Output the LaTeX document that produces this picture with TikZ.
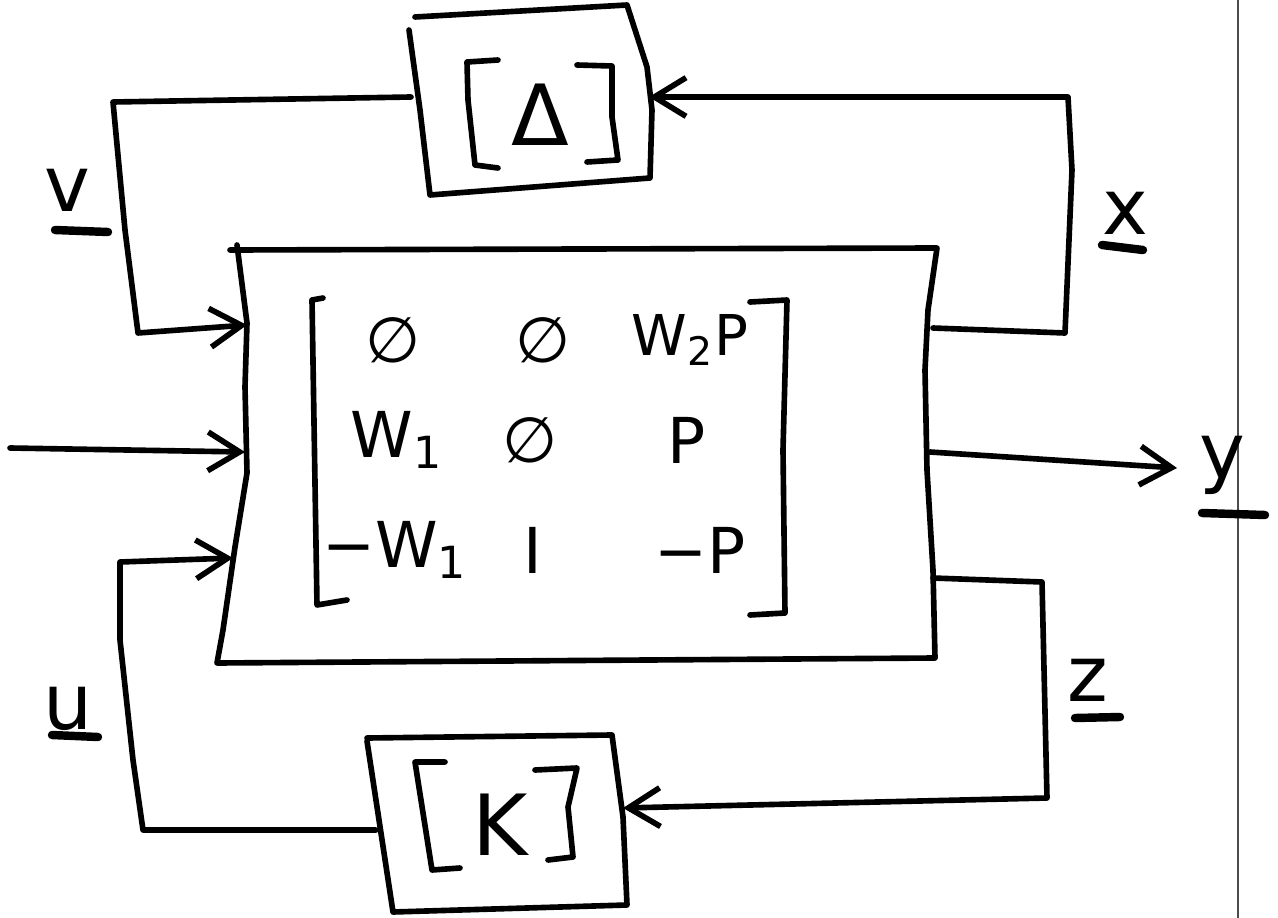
\documentclass[tikz,border=0pt]{standalone}
\usepackage{fontspec}
\setmainfont{DejaVu Sans}
\usetikzlibrary{arrows.meta}
\begin{document}
\begin{tikzpicture}[x=0.01cm,y=-0.01cm,
  pen/.style={line width=1.6pt,line cap=round,line join=round},
  arr/.style={pen,-{Straight Barb[length=9pt,width=11pt,line width=1.6pt]}},
  ul/.style={line width=2.4pt,line cap=round},
  entry/.style={font=\fontsize{18}{22}\selectfont,inner sep=0pt},
  sym/.style={font=\fontsize{24}{28}\selectfont,inner sep=0pt},
  lbl/.style={font=\fontsize{22}{26}\selectfont,inner sep=0pt},
]
\useasboundingbox (0,0) rectangle (1278,918);

% page edge line
\draw[line width=0.5pt,black!70] (1238,0) -- (1238,918);

% ---------- Delta box ----------
\draw[pen] (415,17) -- (627,5) -- (647,67) -- (652,110) -- (650,178)
  -- (430,195) -- (420,110) -- (409,30);
\draw[pen] (498,60) -- (467,62) -- (468,100) -- (475,165) -- (498,168);
\draw[pen] (577,65) -- (612,66) -- (612,117) -- (618,160) -- (587,162);
\node[sym] (delta) at (540,115) {Δ};
\coordinate (dl) at (411,97);
\coordinate (dr) at (649,97);

% ---------- main box ----------
\draw[pen] (230,250) -- (937,248) -- (928,310) -- (925,370) -- (927,470)
  -- (933,570) -- (935,658) -- (217,663) -- (223,630) -- (235,547)
  -- (247,473) -- (245,387) -- (247,323) -- (237,245);
\coordinate (mv) at (247,325);
\coordinate (mw) at (245,452);
\coordinate (mu) at (233,558);
\coordinate (mx) at (933,328);
\coordinate (my) at (930,452);
\coordinate (mz) at (933,578);

% matrix brackets
\draw[pen] (323,298) -- (312,300) -- (317,605) -- (347,600);
\draw[pen] (750,302) -- (787,300) -- (783,450) -- (785,613) -- (750,615);
% matrix entries
\node[entry] (a11) at (393,340) {∅};
\node[entry] (a12) at (543,340) {∅};
\node[entry,font=\fontsize{16}{20}\selectfont] (a13) at (690,340) {W\textsubscript{2}P};
\node[entry] (a21) at (397,440) {W\textsubscript{1}};
\node[entry] (a22) at (530,440) {∅};
\node[entry] (a23) at (687,440) {P};
\node[entry] (a31) at (395,550) {−W\textsubscript{1}};
\node[entry] (a32) at (533,550) {I};
\node[entry] (a33) at (700,550) {−P};

% ---------- K box ----------
\draw[pen] (367,738) -- (612,735) -- (623,817) -- (627,905) -- (393,912) -- (367,741);
\draw[pen] (445,762) -- (415,762) -- (432,870) -- (460,868);
\draw[pen] (535,770) -- (577,768) -- (568,807) -- (573,857) -- (548,860);
\node[sym] (K) at (500,825) {K};
\coordinate (kl) at (376,830);
\coordinate (kr) at (623,808);

% ---------- connectors ----------
\draw[arr] (dl) -- (113,102) -- (125,230) -- (138,333) -- (mv);
\draw[arr] (10,448) -- (mw);
\draw[arr] (kl) -- (143,830) -- (133,760) -- (120,640) -- (120,562) -- (mu);
\draw[arr] (mx) -- (1065,333) -- (1072,170) -- (1068,97) -- (dr);
\draw[arr] (my) -- (1177,468);
\draw[arr] (mz) -- (1042,582) -- (1047,798) -- (kr);

% ---------- labels ----------
\node[lbl] (lv) at (67,190) {v};
\draw[ul] (55,230) -- (108,232);
\node[lbl] (lx) at (1125,213) {x};
\draw[ul] (1102,245) -- (1143,250);
\node[lbl] (ly) at (1222,465) {y};
\draw[ul] (1202,513) -- (1265,515);
\node[lbl] (lz) at (1088,680) {z};
\draw[ul] (1075,718) -- (1120,717);
\node[lbl] (lu) at (68,708) {u};
\draw[ul] (52,735) -- (98,737);
\end{tikzpicture}
\end{document}
